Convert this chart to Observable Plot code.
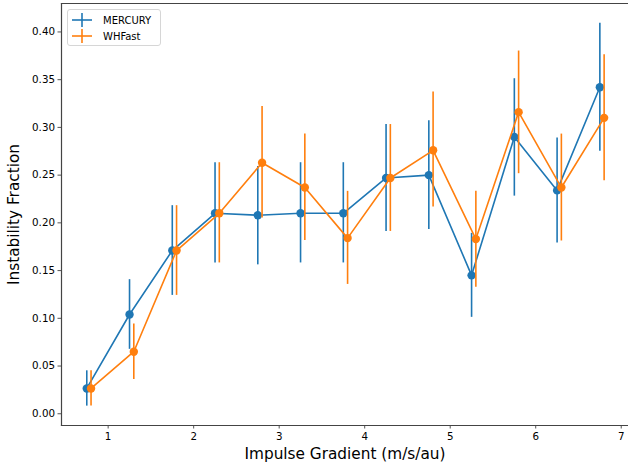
<!DOCTYPE html>
<html>
<head>
<meta charset="utf-8">
<script src="https://cdn.jsdelivr.net/npm/d3@7"></script>
<script src="https://cdn.jsdelivr.net/npm/@observablehq/plot@0.6"></script>
<style>
  html, body { margin: 0; padding: 0; background: #fff; }
  #wrap { position: relative; width: 628px; height: 464px; font-family: "DejaVu Sans", sans-serif; }
  #legend { position: absolute; left: 67px; top: 9px; width: 92px; height: 35px; border: 1px solid #d6d6d6; border-radius: 3px; background: rgba(255,255,255,0.8); font-size: 10px; color: #000; }
  .item { position: absolute; left: 3px; height: 14px; display: flex; align-items: center; }
  .item svg { margin-right: 10px; }
  svg text { font-family: "DejaVu Sans", sans-serif; }
  [aria-label="y-axis label"] text, [aria-label="x-axis label"] text { font-size: 15.3px; }
</style>
</head>
<body>
<div id="wrap">
  <div id="chart"></div>
  <div id="legend"></div>
</div>
<script>
const seriesNames = ["MERCURY", "WHFast"];
const colors = ["#1f77b4", "#ff7f0e"];

const mercuryX = [0.75, 1.25, 1.75, 2.25, 2.75, 3.25, 3.75, 4.25, 4.75, 5.25, 5.75, 6.25, 6.75];
const mercuryY = [0.0265, 0.104, 0.171, 0.210, 0.208, 0.210, 0.210, 0.247, 0.250, 0.145, 0.290, 0.234, 0.342];
const mercuryLo = [0.008, 0.0675, 0.124, 0.158, 0.156, 0.158, 0.158, 0.191, 0.193, 0.101, 0.228, 0.179, 0.275];
const mercuryHi = [0.045, 0.1405, 0.218, 0.263, 0.259, 0.263, 0.263, 0.303, 0.307, 0.189, 0.351, 0.289, 0.409];

const whfastX = [0.8, 1.3, 1.8, 2.3, 2.8, 3.3, 3.8, 4.3, 4.8, 5.3, 5.8, 6.3, 6.8];
const whfastY = [0.0265, 0.065, 0.171, 0.210, 0.263, 0.237, 0.184, 0.247, 0.276, 0.183, 0.316, 0.237, 0.310];
const whfastLo = [0.008, 0.036, 0.124, 0.158, 0.205, 0.1815, 0.1355, 0.191, 0.2165, 0.1325, 0.2515, 0.181, 0.244];
const whfastHi = [0.045, 0.094, 0.218, 0.263, 0.322, 0.293, 0.233, 0.303, 0.337, 0.233, 0.380, 0.293, 0.376];

const xTicks = [1, 2, 3, 4, 5, 6, 7];
const yTicks = [0, 0.05, 0.10, 0.15, 0.20, 0.25, 0.30, 0.35, 0.40];

function rows(name, xs, ys, lo, hi) {
  return xs.map((x, i) => ({series: name, x, y: ys[i], lo: lo[i], hi: hi[i]}));
}
const data = [
  rows(seriesNames[0], mercuryX, mercuryY, mercuryLo, mercuryHi),
  rows(seriesNames[1], whfastX, whfastY, whfastLo, whfastHi)
];

const marks = [];
data.forEach((d, i) => {
  marks.push(Plot.ruleX(d, {x: "x", y1: "lo", y2: "hi", stroke: colors[i], strokeWidth: 1.6}));
  marks.push(Plot.line(d, {x: "x", y: "y", stroke: colors[i], strokeWidth: 1.6}));
  marks.push(Plot.dot(d, {x: "x", y: "y", fill: colors[i], r: 4.2}));
});

const chart = Plot.plot({
  width: 628,
  height: 464,
  marginLeft: 61,
  marginRight: 0,
  marginTop: 3,
  marginBottom: 39,
  style: {fontSize: "10.3px", fontFamily: "DejaVu Sans, sans-serif", color: "#000", background: "#fff"},
  x: {domain: [0.4545, 7.085]},
  y: {domain: [-0.0123, 0.4298]},
  marks: [
    ...marks,
    Plot.axisX({ticks: xTicks, tickSize: 3.5, tickPadding: 4, tickFormat: d3.format("d"), stroke: "#555",
      label: "Impulse Gradient (m/s/au)", labelAnchor: "center", labelOffset: 33, labelArrow: "none"}),
    Plot.axisY({ticks: yTicks, tickSize: 3.5, tickPadding: 3, tickFormat: d3.format(".2f"), stroke: "#555",
      label: "Instability Fraction", labelAnchor: "center", labelOffset: 53, labelArrow: "none"}),
    Plot.frame({anchor: "left", stroke: "#444", strokeWidth: 1.2}),
    Plot.frame({anchor: "bottom", stroke: "#444", strokeWidth: 1.2}),
    Plot.frame({anchor: "top", stroke: "#444", strokeWidth: 1.2})
  ]
});
document.getElementById("chart").appendChild(chart);

const legend = document.getElementById("legend");
seriesNames.forEach((name, i) => {
  const item = document.createElement("div");
  item.className = "item";
  item.style.top = (3 + i * 16) + "px";
  item.innerHTML = `<svg width="22" height="14"><line x1="1" x2="21" y1="7" y2="7" stroke="${colors[i]}" stroke-width="1.6"/><line x1="11" x2="11" y1="0" y2="14" stroke="${colors[i]}" stroke-width="1.6"/></svg><span>${name}</span>`;
  legend.appendChild(item);
});
</script>
</body>
</html>
